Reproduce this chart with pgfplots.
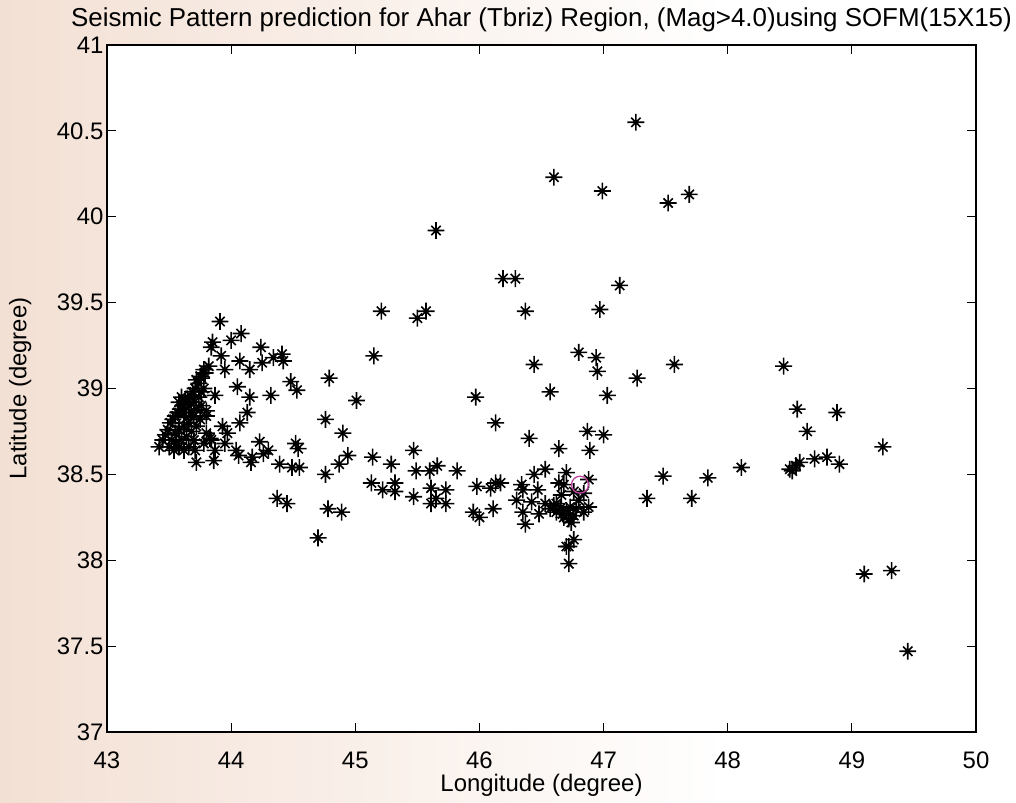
\documentclass[border=0pt]{standalone}
\usepackage{pgfplots}
\pgfplotsset{compat=1.18}
\usepackage{fontspec}
\setmainfont{Liberation Sans}
\definecolor{peach}{RGB}{243,224,212}
\definecolor{circ}{RGB}{190,70,160}
\pgfdeclareplotmark{mstar}{%
  \pgfpathmoveto{\pgfqpoint{-\pgfplotmarksize}{0pt}}\pgfpathlineto{\pgfqpoint{\pgfplotmarksize}{0pt}}%
  \pgfpathmoveto{\pgfqpoint{0pt}{-\pgfplotmarksize}}\pgfpathlineto{\pgfqpoint{0pt}{\pgfplotmarksize}}%
  \pgfpathmoveto{\pgfqpoint{-0.55\pgfplotmarksize}{-0.55\pgfplotmarksize}}\pgfpathlineto{\pgfqpoint{0.55\pgfplotmarksize}{0.55\pgfplotmarksize}}%
  \pgfpathmoveto{\pgfqpoint{-0.55\pgfplotmarksize}{0.55\pgfplotmarksize}}\pgfpathlineto{\pgfqpoint{0.55\pgfplotmarksize}{-0.55\pgfplotmarksize}}%
  \pgfusepathqstroke}
\pgfplotstableread{
x y
47.26 40.55
46.60 40.23
46.99 40.15
47.52 40.08
47.69 40.13
45.65 39.92
46.19 39.64
46.29 39.64
47.13 39.60
45.21 39.45
45.50 39.41
45.57 39.45
46.37 39.45
46.97 39.46
45.15 39.19
46.44 39.14
46.80 39.21
46.94 39.18
46.95 39.10
47.27 39.06
47.57 39.14
48.45 39.13
44.79 39.06
45.01 38.93
45.97 38.95
46.57 38.98
47.03 38.96
46.13 38.80
44.76 38.82
44.90 38.74
46.40 38.71
46.87 38.75
47.00 38.73
46.64 38.65
46.89 38.64
45.47 38.64
44.94 38.61
44.87 38.56
45.14 38.60
45.29 38.56
44.76 38.50
45.49 38.52
45.60 38.52
45.66 38.55
45.82 38.52
46.53 38.53
46.44 38.50
45.13 38.45
45.22 38.41
45.32 38.45
45.32 38.40
45.47 38.37
45.61 38.42
45.73 38.41
45.61 38.33
45.73 38.33
45.65 38.36
45.98 38.43
46.09 38.42
46.17 38.45
46.13 38.45
46.34 38.44
46.35 38.41
46.47 38.41
46.30 38.35
46.42 38.34
46.35 38.28
46.37 38.21
46.48 38.27
45.95 38.28
46.00 38.25
46.11 38.30
44.89 38.28
44.78 38.30
44.70 38.13
46.70 38.08
46.72 37.98
46.76 38.12
46.72 38.08
46.53 38.33
46.57 38.30
46.60 38.32
46.62 38.28
46.65 38.30
46.67 38.27
46.68 38.25
46.70 38.29
46.72 38.24
46.74 38.22
46.76 38.26
46.78 38.30
46.73 38.31
46.62 38.33
46.70 38.51
46.64 38.45
46.68 38.44
46.88 38.47
46.84 38.39
46.88 38.31
46.84 38.28
46.80 38.35
46.76 38.40
46.66 38.38
47.48 38.49
47.35 38.36
47.71 38.36
47.84 38.48
48.11 38.54
48.50 38.53
48.52 38.52
48.55 38.55
48.58 38.57
48.56 38.88
48.64 38.75
48.70 38.59
48.80 38.60
48.88 38.86
48.90 38.56
49.25 38.66
49.10 37.92
49.32 37.94
49.45 37.47
43.91 39.39
44.08 39.32
44.00 39.28
43.85 39.27
43.84 39.24
44.24 39.24
44.34 39.18
44.41 39.20
44.42 39.16
44.25 39.15
43.92 39.19
44.07 39.16
44.15 39.11
43.95 39.11
43.78 39.11
43.75 39.07
43.72 39.05
44.05 39.01
44.15 38.95
44.32 38.96
44.48 39.04
44.53 38.99
43.87 38.96
44.13 38.86
44.07 38.80
43.93 38.78
43.97 38.74
43.80 38.87
43.80 38.84
43.42 38.66
44.23 38.69
44.04 38.64
44.06 38.61
44.17 38.60
44.16 38.57
44.26 38.62
44.52 38.68
44.54 38.65
44.39 38.56
44.49 38.54
44.55 38.54
43.87 38.64
43.86 38.58
43.72 38.57
43.71 38.64
43.70 38.70
43.83 38.71
44.37 38.36
44.45 38.33
43.95 38.68
44.30 38.64
43.82 39.13
43.79 39.09
43.76 39.06
43.74 39.03
43.71 39.00
43.69 38.98
43.67 38.96
43.65 38.94
43.63 38.92
43.61 38.90
43.59 38.88
43.57 38.86
43.55 38.84
43.53 38.82
43.51 38.80
43.49 38.76
43.47 38.73
43.45 38.70
43.58 38.92
43.60 38.95
43.62 38.86
43.64 38.83
43.66 38.90
43.68 38.86
43.70 38.92
43.72 38.88
43.74 38.95
43.76 38.90
43.78 39.00
43.66 38.80
43.62 38.78
43.58 38.76
43.55 38.74
43.52 38.70
43.56 38.68
43.60 38.70
43.64 38.72
43.68 38.75
43.72 38.78
43.75 38.82
43.66 38.66
43.62 38.64
43.58 38.66
43.54 38.64
43.50 38.66
43.78 38.68
43.80 38.74
43.84 38.70
43.70 38.84
43.76 38.98
}\quakes
\begin{document}
\begin{tikzpicture}
\fill[white] (-107bp,-71bp) rectangle (909bp,732bp);
\shade[left color=peach, right color=white] (-107bp,-71bp) rectangle (620bp,732bp);
\begin{axis}[
  scale only axis, width=869bp, height=687bp,
  at={(0,0)}, anchor=south west,
  xmin=43, xmax=50, ymin=37, ymax=41,
  xtick={43,44,...,50}, ytick={37,37.5,...,41},
  /pgf/number format/.cd, fixed, precision=1, assume math mode=true, /pgfplots/.cd,
  tick label style={font=\fontsize{24}{28}\selectfont, black},
  xticklabel style={anchor=base, yshift=-36bp},
  axis background/.style={fill=white},
  axis line style={line width=1.6bp, black},
  tick style={line width=1.2bp, black},
  major tick length=9bp, tick align=inside,
  title={Seismic Pattern prediction for Ahar (Tbriz) Region, (Mag>4.0)using SOFM(15X15)},
  title style={font=\fontsize{26}{30}\selectfont, at={(axis description cs:0.5,1)}, anchor=base, yshift=13bp},
  xlabel={Longitude (degree)},
  xlabel style={font=\fontsize{24}{28}\selectfont, at={(axis description cs:0.5,0)}, anchor=base, yshift=-59bp},
  ylabel={Latitude (degree)},
  ylabel style={font=\fontsize{24}{28}\selectfont, at={(axis description cs:-0.1,0.5)}, anchor=center},
]
\addplot[only marks, mark=mstar, mark size=8.5pt, mark options={line width=1.6bp, black}] table {\quakes};
\addplot[only marks, mark=o, mark size=8.5pt, mark options={line width=1.3bp, draw=circ}] coordinates {(46.81,38.44)};
\end{axis}
\pgfresetboundingbox
\useasboundingbox (-107bp,-71bp) rectangle (909bp,732bp);
\end{tikzpicture}
\end{document}
